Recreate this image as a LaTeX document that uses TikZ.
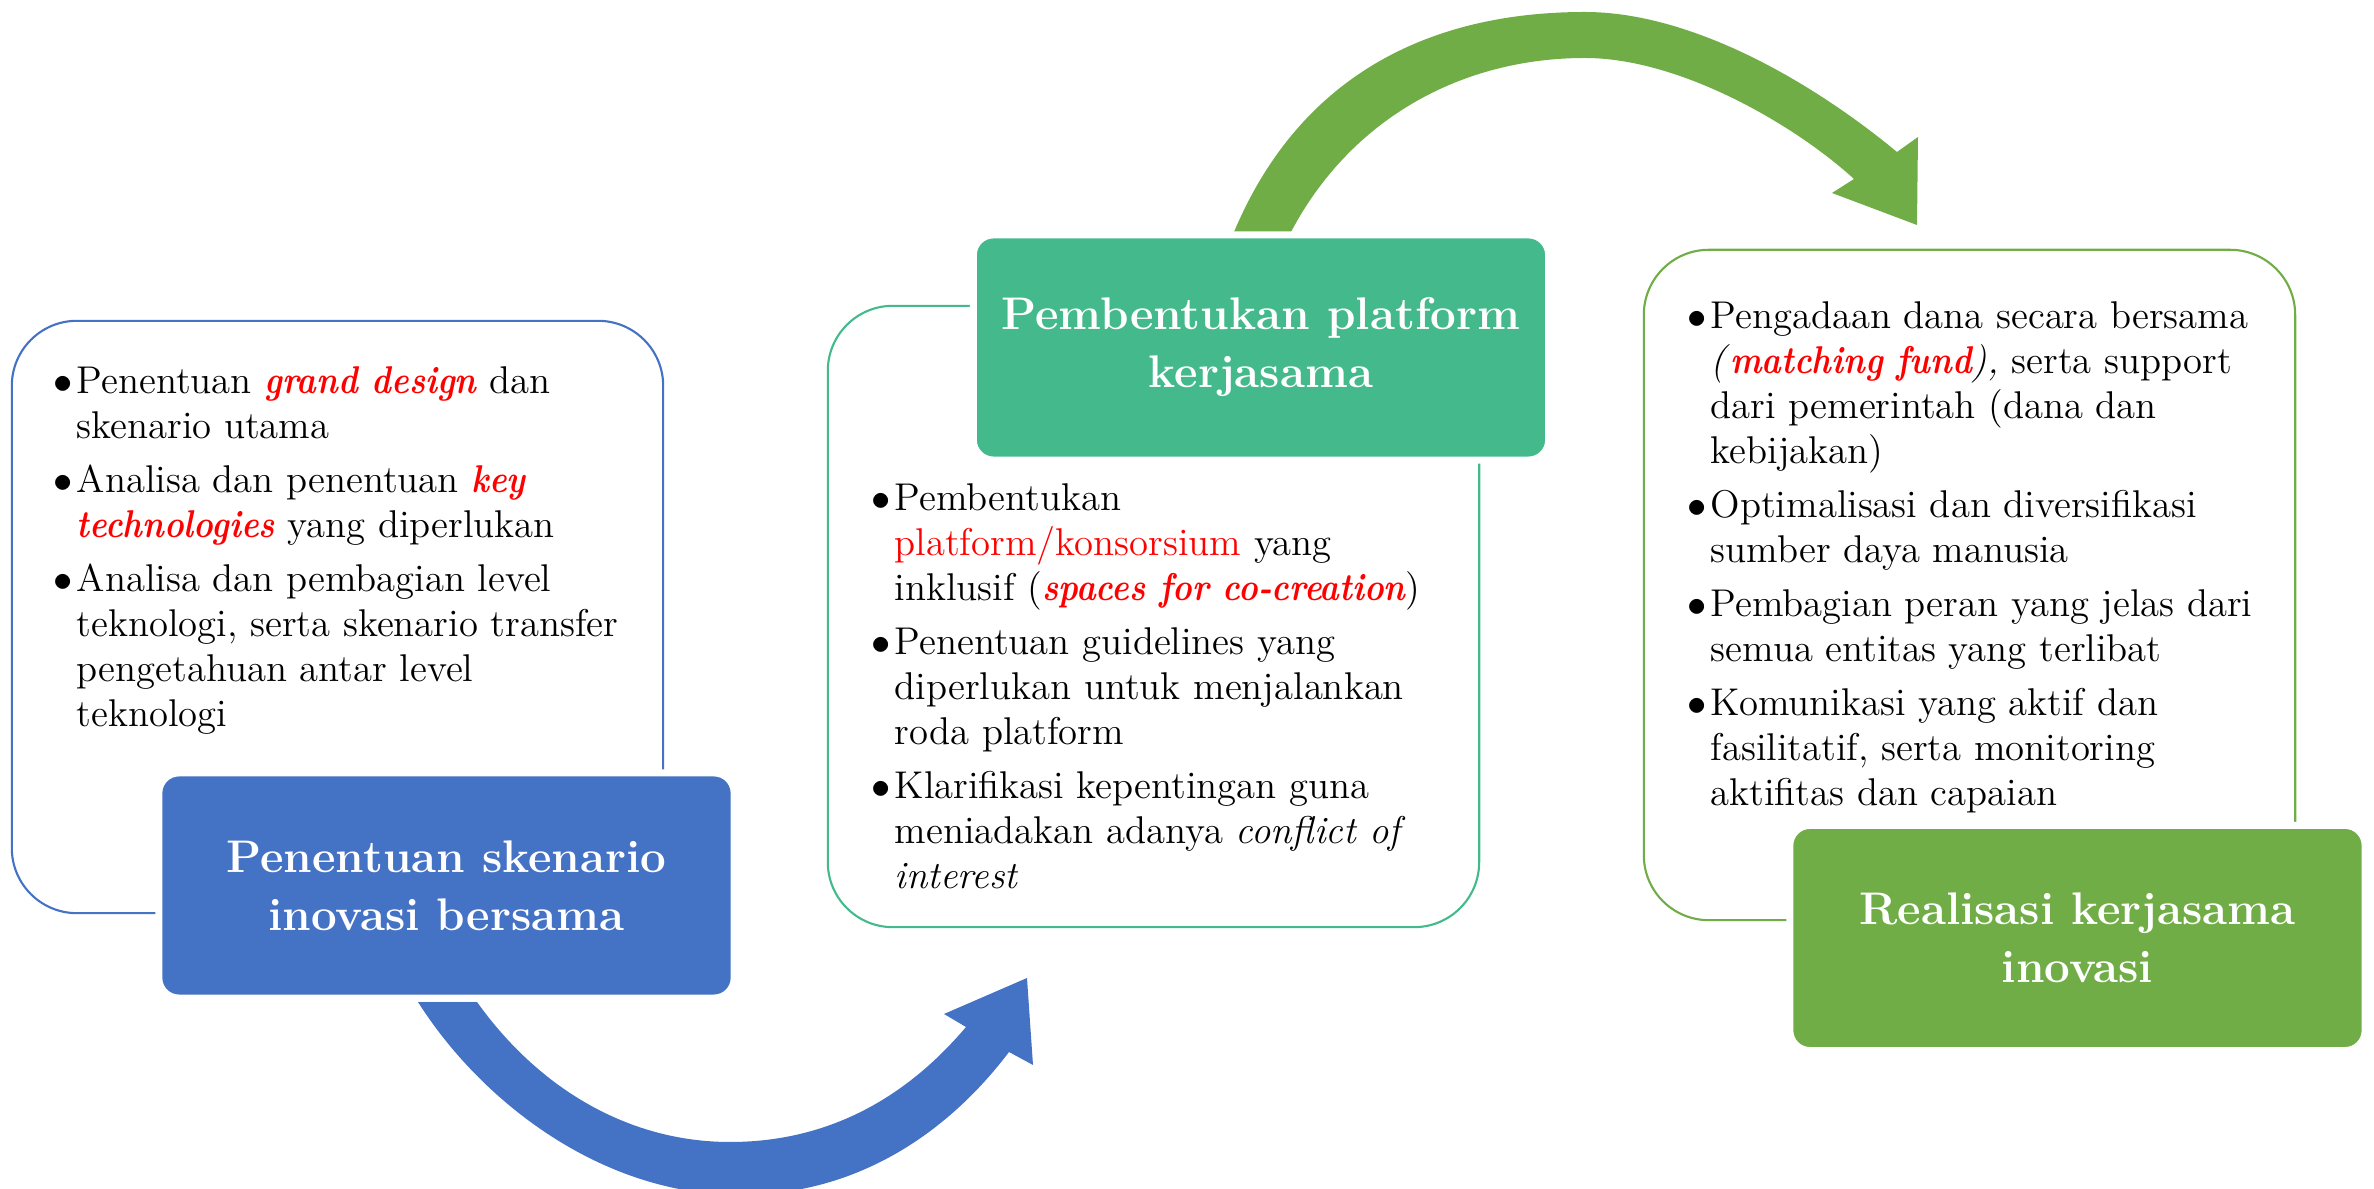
\documentclass[tikz,border=0pt]{standalone}
\usepackage{xcolor}
\usepackage{graphicx}
\usepackage{tikz}
\usetikzlibrary{positioning}

\definecolor{skenblue}{RGB}{68,114,196}
\definecolor{platteal}{RGB}{68,186,140}
\definecolor{realgreen}{RGB}{112,173,71}
\definecolor{keyred}{RGB}{255,0,0}

\newcommand{\keyterm}[1]{\textcolor{keyred}{\scalebox{0.86}[1]{\bfseries\itshape #1}}}
\newcommand{\bul}{\makebox[0.19cm][l]{\hspace{-0.04cm}$\bullet$}}

\tikzset{
  frame/.style={draw, rounded corners=0.65cm, line width=0.6pt, inner sep=0pt},
  titlebox/.style={rounded corners=0.2cm, draw=white, line width=2pt, text=white,
    minimum width=5.75cm, minimum height=2.25cm, align=center,
    font=\fontsize{13}{16.5}\selectfont\bfseries},
  listtext/.style={anchor=north west, inner sep=0pt, align=left,
    font=\fontsize{11}{12.8}\selectfont},
}

\begin{document}
\begin{tikzpicture}[x=0.01cm, y=-0.01cm]
\useasboundingbox (0,0) rectangle (2374,1189);
\fill[skenblue] (418,1002) .. controls (480,1100) and (600,1195) .. (740,1195)
  .. controls (860,1195) and (950,1130) .. (1009,1052) -- (1033,1065) -- (1027,978)
  -- (944,1014) -- (966,1027) .. controls (900,1105) and (820,1142) .. (730,1142)
  .. controls (630,1142) and (540,1090) .. (477,1002) -- cycle;
\fill[realgreen] (1234,232) .. controls (1300,75) and (1430,12) .. (1585,12)
  .. controls (1690,12) and (1810,80) .. (1897,152) -- (1918,137) -- (1917,225)
  -- (1832,193) -- (1854,179) .. controls (1795,125) and (1680,58) .. (1585,58)
  .. controls (1460,58) and (1350,120) .. (1291,232) -- cycle;
\node[frame, draw=skenblue, minimum width=6.51cm, minimum height=5.92cm] (skenframe) at (337.5,617) {};
\node[frame, draw=platteal, minimum width=6.51cm, minimum height=6.21cm] (platframe) at (1153.5,616.5) {};
\node[frame, draw=realgreen, minimum width=6.51cm, minimum height=6.70cm] (realframe) at (1969.5,585) {};
\node[titlebox, fill=skenblue] (skentitle) at (446.5,885.5) {Penentuan skenario\\inovasi bersama};
\node[titlebox, fill=platteal] (plattitle) at (1261,347.5) {Pembentukan platform\\kerjasama};
\node[titlebox, fill=realgreen] (realtitle) at (2077.5,938) {Realisasi kerjasama\\inovasi};
\node[listtext] (skenlist) at (57,361) {\begin{tabular}{@{}l@{}l@{}}
\bul & Penentuan \keyterm{grand design} dan\\
 & skenario utama\\[0.09cm]
\bul & Analisa dan penentuan \keyterm{key}\\
 & \keyterm{technologies} yang diperlukan\\[0.09cm]
\bul & Analisa dan pembagian level\\
 & teknologi, serta skenario transfer\\
 & pengetahuan antar level\\
 & teknologi
\end{tabular}};
\node[listtext] (platlist) at (875,478) {\begin{tabular}{@{}l@{}l@{}}
\bul & Pembentukan\\
 & \textcolor{keyred}{platform/konsorsium} yang\\
 & inklusif (\keyterm{spaces for co-creation})\\[0.09cm]
\bul & Penentuan guidelines yang\\
 & diperlukan untuk menjalankan\\
 & roda platform\\[0.09cm]
\bul & Klarifikasi kepentingan guna\\
 & meniadakan adanya \textit{conflict of}\\
 & \textit{interest}
\end{tabular}};
\node[listtext] (reallist) at (1691,296) {\begin{tabular}{@{}l@{}l@{}}
\bul & Pengadaan dana secara bersama\\
 & \textit{(}\keyterm{matching fund}\textit{),} serta support\\
 & dari pemerintah (dana dan\\
 & kebijakan)\\[0.09cm]
\bul & Optimalisasi dan diversifikasi\\
 & sumber daya manusia\\[0.09cm]
\bul & Pembagian peran yang jelas dari\\
 & semua entitas yang terlibat\\[0.09cm]
\bul & Komunikasi yang aktif dan\\
 & fasilitatif, serta monitoring\\
 & aktifitas dan capaian
\end{tabular}};
\end{tikzpicture}
\end{document}
